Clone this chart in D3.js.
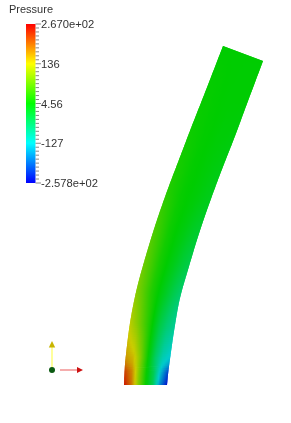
<!DOCTYPE html>
<html>
<head>
<meta charset="utf-8">
<script src="https://cdn.jsdelivr.net/npm/d3@7"></script>
<style>
  html, body { margin: 0; padding: 0; background: #fff; overflow: hidden; }
  svg { display: block; filter: blur(0.3px); }
  text { font-family: "Liberation Sans", sans-serif; fill: #333; }
</style>
</head>
<body>
<div id="plot"></div>
<script>
const width = 291;
const height = 423;

// Colour bar
const barMin = -257.8;
const barMax = 267;
const barTicks = [267, 136, 4.56, -127, -257.8];
const barLabels = ["2.670e+02", "136", "4.56", "-127", "-2.578e+02"];
const minorPerMajor = 10;

// Beam mesh in model units, stations run from the clamped end to the free end
const leftX = [-2.15, -2.09, -1.98, -1.55, -0.9, 0, 1.05, 2.2, 3.45, 4.75, 6.05, 7.75];
const leftY = [0, 1.4, 2.8, 6.2, 9.5, 12.8, 16.2, 19.5, 22.8, 26.2, 29.5, 33.9];
const rightX = [2.15, 2.28, 2.45, 2.9, 3.45, 4.3, 5.27, 6.36, 7.58, 8.91, 10.1, 11.75];
const rightY = [0, 1.3, 2.6, 5.7, 8.7, 11.7, 14.9, 18.1, 21.4, 24.8, 28, 32.4];
const acrossStops = [0, 0.17, 0.33, 0.5, 0.67, 0.83, 1];

// Pressure per station, left edge to right edge
const pressureGrid = [
  [255, 195, 90, 10, -50, -170, -250],
  [225, 180, 90, 10, -50, -140, -215],
  [170, 150, 90, 10, -60, -110, -135],
  [125, 90, 50, 5, -40, -70, -90],
  [90, 60, 28, 4, -20, -45, -68],
  [70, 45, 20, 4, -12, -30, -45],
  [50, 32, 14, 4, -6, -18, -28],
  [28, 18, 9, 4, -1, -8, -14],
  [18, 13, 7, 4, 0, -4, -8],
  [12, 9, 6, 4, 1, 0, -3],
  [8, 7, 5, 4, 3, 3, 2],
  [4, 4, 4, 4, 4, 4, 4]
];

// Orientation axes, model units
const originPoint = [-9.35, 1.5];
const axisTipY = 4.4;
const axisTipX = -6.25;

const svg = d3.select("#plot")
  .append("svg")
  .attr("width", width)
  .attr("height", height);
const defs = svg.append("defs");

const x = d3.scaleLinear().domain([-10, 10]).range([45.5, 245.5]);
const y = d3.scaleLinear().domain([0, 34]).range([385, 45]);
const barY = d3.scaleLinear().domain([barMin, barMax]).range([183, 24]);

// VTK style blue to red rainbow
const rainbow = d3.scaleLinear()
  .domain([0, 0.25, 0.5, 0.75, 1])
  .range(["#0000ff", "#00ffff", "#00ff00", "#ffff00", "#ff0000"]);
const toUnit = d3.scaleLinear().domain([barMin, barMax]).range([0, 1]).clamp(true);

// lighting on the surface makes it a bit darker than the bar
const lit = p => {
  const c = d3.rgb(rainbow(toUnit(p)));
  return d3.rgb(c.r * 0.8, c.g * 0.8, c.b * 0.8).formatRgb();
};

function mix(u, v, t) { return u + (v - u) * t; }

// Catmull-Rom through the stations so the outline does not kink
function smooth(arr, i, t) {
  const p0 = arr[Math.max(i - 1, 0)], p1 = arr[i];
  const p2 = arr[i + 1], p3 = arr[Math.min(i + 2, arr.length - 1)];
  return 0.5 * (2 * p1 + (p2 - p0) * t + (2 * p0 - 5 * p1 + 4 * p2 - p3) * t * t
    + (3 * p1 - p0 - 3 * p2 + p3) * t * t * t);
}

// Shade the beam as thin strips, each with a gradient from left to right edge
const subAlong = 16;
const subAcross = 24;
const strips = [];
function edgeAt(i, t) {
  return {
    lx: x(smooth(leftX, i, t)), ly: y(smooth(leftY, i, t)),
    rx: x(smooth(rightX, i, t)), ry: y(smooth(rightY, i, t))
  };
}
function pressureAt(i, t, a) {
  let j = d3.bisectRight(acrossStops, a) - 1;
  j = Math.min(j, acrossStops.length - 2);
  const f = (a - acrossStops[j]) / (acrossStops[j + 1] - acrossStops[j]);
  const low = mix(pressureGrid[i][j], pressureGrid[i][j + 1], f);
  const high = mix(pressureGrid[i + 1][j], pressureGrid[i + 1][j + 1], f);
  return mix(low, high, t);
}
for (let i = 0; i < leftX.length - 1; i++) {
  for (let s = 0; s < subAlong; s++) {
    const a = edgeAt(i, s / subAlong);
    const b = edgeAt(i, (s + 1) / subAlong);
    strips.push({
      id: `strip${i}_${s}`,
      a, b,
      stops: d3.range(subAcross + 1).map(k => ({
        offset: k / subAcross,
        fill: lit(pressureAt(i, (s + 0.5) / subAlong, k / subAcross))
      }))
    });
  }
}
// each strip runs under the next one, otherwise white bleeds through the seams
strips.forEach((d, k) => { d.end = strips[k + 1] ? strips[k + 1].b : d.b; });

const stripGrads = defs.selectAll("linearGradient.strip")
  .data(strips)
  .join("linearGradient")
  .attr("class", "strip")
  .attr("id", d => d.id)
  .attr("gradientUnits", "userSpaceOnUse")
  .attr("x1", d => (d.a.lx + d.b.lx) / 2)
  .attr("y1", d => (d.a.ly + d.b.ly) / 2)
  .attr("x2", d => (d.a.rx + d.b.rx) / 2)
  .attr("y2", d => (d.a.ry + d.b.ry) / 2);
stripGrads.selectAll("stop")
  .data(d => d.stops)
  .join("stop")
  .attr("offset", d => d.offset)
  .attr("stop-color", d => d.fill);

svg.append("g")
  .selectAll("path")
  .data(strips)
  .join("path")
  .attr("d", d => `M${d.a.lx},${d.a.ly}L${d.a.rx},${d.a.ry}L${d.b.rx},${d.b.ry}L${d.end.rx},${d.end.ry}L${d.end.lx},${d.end.ly}L${d.b.lx},${d.b.ly}Z`)
  .attr("fill", d => `url(#${d.id})`);

// Colour bar
const grad = defs.append("linearGradient")
  .attr("id", "barGrad")
  .attr("x1", 0).attr("x2", 0).attr("y1", 1).attr("y2", 0);
grad.selectAll("stop")
  .data(rainbow.domain())
  .join("stop")
  .attr("offset", d => d)
  .attr("stop-color", d => rainbow(d));

svg.append("rect")
  .attr("x", 26)
  .attr("y", barY(barMax))
  .attr("width", 9.5)
  .attr("height", barY(barMin) - barY(barMax))
  .attr("fill", "url(#barGrad)");

const tickSteps = d3.range(0, (barTicks.length - 1) * minorPerMajor + 1);
const tickValue = d3.scaleLinear()
  .domain([0, tickSteps.length - 1])
  .range([barMax, barMin]);

svg.append("g")
  .selectAll("line")
  .data(tickSteps)
  .join("line")
  .attr("x1", 35.5)
  .attr("x2", d => d % minorPerMajor === 0 ? 41 : 39)
  .attr("y1", d => barY(tickValue(d)))
  .attr("y2", d => barY(tickValue(d)))
  .attr("stroke", "#888")
  .attr("stroke-width", 1);

svg.append("g")
  .selectAll("text")
  .data(barTicks)
  .join("text")
  .attr("x", 41)
  .attr("y", d => barY(d) + 4)
  .attr("font-size", 11.2)
  .text((d, i) => barLabels[i]);

svg.append("text")
  .attr("x", 9)
  .attr("y", 13)
  .attr("font-size", 11)
  .text("Pressure");

// Orientation axes
const ox = x(originPoint[0]);
const oy = y(originPoint[1]);
svg.append("line")
  .attr("x1", ox).attr("y1", oy)
  .attr("x2", ox).attr("y2", y(axisTipY) + 5)
  .attr("stroke", "#ffff66")
  .attr("stroke-width", 1.3);
svg.append("path")
  .attr("d", `M${ox},${y(axisTipY)}l3.2,6.5h-6.4Z`)
  .attr("fill", "#c8b400");
svg.append("line")
  .attr("x1", ox + 8).attr("y1", oy)
  .attr("x2", x(axisTipX) - 5).attr("y2", oy)
  .attr("stroke", "#f08080")
  .attr("stroke-width", 1.3);
svg.append("path")
  .attr("d", `M${x(axisTipX)},${oy}l-6,-3v6Z`)
  .attr("fill", "#cc1111");
svg.append("circle")
  .attr("cx", ox).attr("cy", oy)
  .attr("r", 3)
  .attr("fill", "#0b5a12");
</script>
</body>
</html>
